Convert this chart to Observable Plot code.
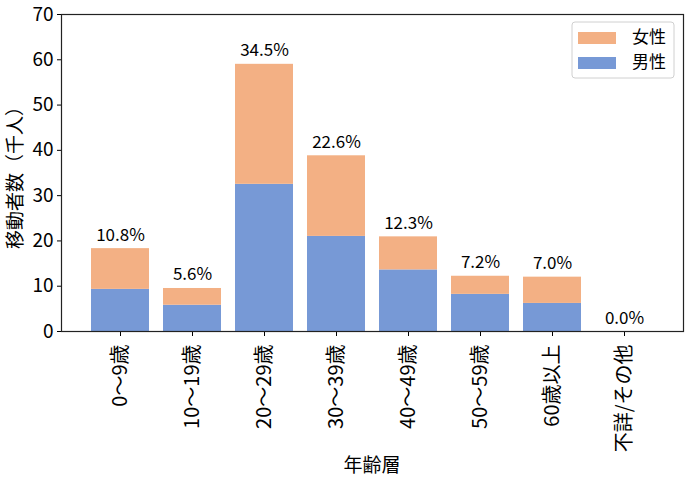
<!DOCTYPE html>
<html>
<head>
<meta charset="utf-8">
<script src="https://cdn.jsdelivr.net/npm/d3@7"></script>
<script src="https://cdn.jsdelivr.net/npm/@observablehq/plot@0.6"></script>
<style>
  body { margin: 0; background: #fff; }
</style>
</head>
<body>
<div id="chart"></div>
<script>
const categories = ["0～9歳", "10～19歳", "20～29歳", "30～39歳", "40～49歳", "50～59歳", "60歳以上", "不詳/その他"];
const maleValues = [9.3, 5.8, 32.5, 21.0, 13.6, 8.2, 6.2, 0];
const femaleValues = [9.0, 3.7, 26.5, 17.8, 7.3, 4.0, 5.8, 0];
const shareLabels = ["10.8%", "5.6%", "34.5%", "22.6%", "12.3%", "7.2%", "7.0%", "0.0%"];
const seriesNames = ["男性", "女性"];
const seriesColors = ["#7799D6", "#F3B084"];
const yTicks = [0, 10, 20, 30, 40, 50, 60, 70];
const yLabel = "移動者数（千人）";
const xLabel = "年齢層";
const legendOrder = ["女性", "男性"];

const rows = [];
categories.forEach((c, i) => {
  rows.push({cat: c, sex: "男性", value: maleValues[i]});
  rows.push({cat: c, sex: "女性", value: femaleValues[i]});
});
const totals = categories.map((c, i) => ({cat: c, total: maleValues[i] + femaleValues[i], share: shareLabels[i]}));

const FONT = "'Noto Sans CJK JP', 'Noto Sans', sans-serif";

const chart = Plot.plot({
  width: 688,
  height: 485,
  marginLeft: 61,
  marginRight: 5,
  marginTop: 14,
  marginBottom: 154,
  style: {fontFamily: FONT, color: "#000", background: "#fff"},
  x: {domain: categories, paddingInner: 0.2, paddingOuter: 0.39, label: null},
  y: {domain: [0, 70], label: null},
  color: {domain: seriesNames, range: seriesColors},
  marks: [
    Plot.barY(rows, {x: "cat", y: "value", fill: "sex", order: seriesNames}),
    Plot.text(totals, {x: "cat", y: "total", text: "share", dy: -8, lineAnchor: "bottom", fontSize: 17, fill: "#000"}),
    Plot.axisY({ticks: yTicks, tickSize: 4, tickPadding: 4, label: null, fontSize: 19, tickFormat: d => String(d)}),
    Plot.axisX({tickRotate: -90, tickSize: 5, tickPadding: 8, label: null, fontSize: 20}),
    Plot.frame({stroke: "#222", strokeWidth: 1.2})
  ]
});

const svg = d3.select(chart);

// y-axis title
svg.append("text")
  .attr("transform", "translate(17,173) rotate(-90)")
  .attr("text-anchor", "middle")
  .attr("dominant-baseline", "middle")
  .attr("font-family", FONT)
  .attr("font-size", 19)
  .attr("fill", "#000")
  .text(yLabel);

// x-axis title
svg.append("text")
  .attr("x", 372)
  .attr("y", 467)
  .attr("text-anchor", "middle")
  .attr("dominant-baseline", "middle")
  .attr("font-family", FONT)
  .attr("font-size", 19)
  .attr("fill", "#000")
  .text(xLabel);

// legend
const lg = svg.append("g").attr("transform", "translate(572,22)");
lg.append("rect")
  .attr("width", 102).attr("height", 56).attr("rx", 3)
  .attr("fill", "#fff").attr("fill-opacity", 0.85)
  .attr("stroke", "#d0d0d0");
legendOrder.forEach((name, i) => {
  const color = seriesColors[seriesNames.indexOf(name)];
  lg.append("rect")
    .attr("x", 6).attr("y", 10 + i * 25)
    .attr("width", 38).attr("height", 12)
    .attr("fill", color);
  lg.append("text")
    .attr("x", 60).attr("y", 16 + i * 25)
    .attr("text-anchor", "start")
    .attr("dominant-baseline", "middle")
    .attr("font-family", FONT)
    .attr("font-size", 17)
    .attr("fill", "#000")
    .text(name);
});

document.getElementById("chart").appendChild(chart);
</script>
</body>
</html>
